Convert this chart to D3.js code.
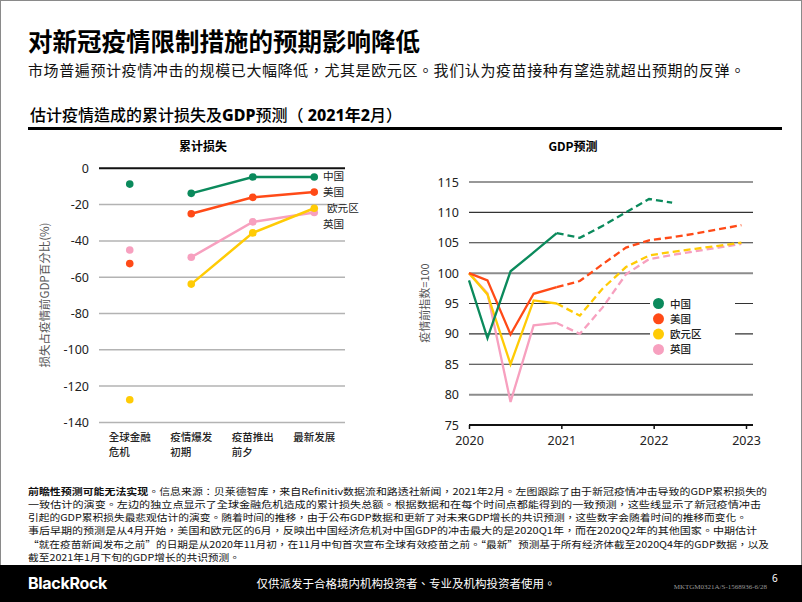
<!DOCTYPE html>
<html lang="zh-Hant"><head><meta charset="utf-8">
<script src="https://cdn.jsdelivr.net/npm/d3@7"></script>
<style>
html,body{margin:0;padding:0;background:#fff;}
svg{display:block;}
text{font-family:"Noto Sans","Noto Sans CJK TC",sans-serif;}
</style></head>
<body>
<svg id="c" width="802" height="602"></svg>
<script>
// ---------- data ----------
const categories = ["全球金融危机","疫情爆发初期","疫苗推出前夕","最新发展"];
const categoryLines = [["全球金融","危机"],["疫情爆发","初期"],["疫苗推出","前夕"],["最新发展"]];
const lossChina = [-8.7, -13.8, -4.8, -4.8];
const lossUS    = [-52.5, -25, -16, -13.1];
const lossEuro  = [-127.5, -63.8, -35.6, -22];
const lossUK    = [-45, -49, -29.5, -24.3];
const lossTicks = [0,-20,-40,-60,-80,-100,-120,-140];

const periods  = [2020.0, 2020.2, 2020.45, 2020.7, 2020.95, 2021.2, 2021.45, 2021.7, 2021.95, 2022.2, 2022.45, 2022.7, 2022.95];
const gdpChina = [98.8, 89.3, 100.3, 103.4, 106.6, 105.8, 107.8, 110.0, 112.2, 111.6];
const gdpUS    = [100, 98.8, 89.9, 96.6, 97.7, 98.7, 101.5, 104.2, 105.4, 105.9, 106.5, 107.2, 107.9];
const gdpEuro  = [100, 96.5, 85.0, 95.5, 95.0, 93.0, 97.5, 101.0, 102.9, 103.5, 104.0, 104.5, 105.0];
const gdpUK    = [100, 96.7, 78.8, 91.4, 91.8, 90.0, 94.4, 99.8, 102.3, 103.0, 103.6, 104.2, 104.8];
const gdpTicks = [75,80,85,90,95,100,105,110,115];
const yearTicks = [2020,2021,2022,2023];
const lastActual = 4; // index where forecasts (dashed) start

const seriesNames = ["中国","美国","欧元区","英国"];
const colors = {"中国":"#0b8a5c","美国":"#ff4a17","欧元区":"#ffcb05","英国":"#f7a0bf"};

const footLines = [
  [["前瞻性预测可能无法实现",true],["。信息来源：贝莱德智库，来自Refinitiv数据流和路透社新闻，2021年2月。左图跟踪了由于新冠疫情冲击导致的GDP累积损失的",false]],
  [["一致估计的演变。左边的独立点显示了全球金融危机造成的累计损失总额。根据数据和在每个时间点都能得到的一致预测，这些线显示了新冠疫情冲击",false]],
  [["引起的GDP累积损失最悲观估计的演变。随着时间的推移，由于公布GDP数据和更新了对未来GDP增长的共识预测，这些数字会随着时间的推移而变化。",false]],
  [["事后早期的预测是从4月开始，美国和欧元区的6月，反映出中国经济危机对中国GDP的冲击最大的是2020Q1年，而在2020Q2年的其他国家。中期估计",false]],
  [["“就在疫苗新闻发布之前”的日期是从2020年11月初，在11月中旬首次宣布全球有效疫苗之前。“最新”预测基于所有经济体截至2020Q4年的GDP数据，以及",false]],
  [["截至2021年1月下旬的GDP增长的共识预测。",false]]
];
const footWidths = [739, 733, 719, 729, 741, 212];

// ---------- drawing ----------
const svg = d3.select("#c");
const CJK = '"Noto Sans CJK TC","Noto Sans CJK SC",sans-serif';

svg.append("rect").attr("x",0.5).attr("y",0.5).attr("width",801).attr("height",601)
  .attr("fill","#fff").attr("stroke","#8a8a8a").attr("stroke-width",1);

// header
svg.append("text").attr("x",28).attr("y",50.5).attr("font-size",24.5).attr("font-weight",700)
  .style("font-family",CJK).attr("fill","#000").text("对新冠疫情限制措施的预期影响降低");
svg.append("text").attr("x",28).attr("y",75.5).attr("font-size",15)
  .style("font-family",CJK).attr("fill","#111")
  .attr("textLength",717).attr("lengthAdjust","spacing")
  .text("市场普遍预计疫情冲击的规模已大幅降低，尤其是欧元区。我们认为疫苗接种有望造就超出预期的反弹。");

const h = svg.append("text").attr("x",30).attr("y",121).attr("font-size",16).attr("fill","#000");
[["估计疫情造成的累计损失及",500],["GDP",800],["预测（ ",500],["2021",800],["年",700],["2",800],["月）",500]]
  .forEach(([t,w])=>h.append("tspan").attr("font-weight",w).text(t));
svg.append("line").attr("x1",28).attr("x2",782).attr("y1",128.5).attr("y2",128.5)
  .attr("stroke","#000").attr("stroke-width",3);

// ---------- left chart ----------
const xL = d3.scalePoint().domain(categories).range([99,345]).padding(0.5);
const yL = d3.scaleLinear().domain([-140,0]).range([422.4,168.3]);
const gL = svg.append("g");

gL.append("text").attr("x",203).attr("y",151).attr("text-anchor","middle")
  .attr("font-size",12).attr("font-weight",700).style("font-family",CJK).text("累计损失");

lossTicks.forEach(t=>{
  gL.append("line").attr("x1",99).attr("x2",345).attr("y1",yL(t)).attr("y2",yL(t))
    .attr("stroke", t===0 ? "#111" : "#b3b3b3").attr("stroke-width", t===0 ? 2 : 1.5);
});
const axL = d3.axisLeft(yL).tickValues(lossTicks).tickSize(0).tickPadding(0).tickFormat(d=>d===0?"0":"-"+Math.abs(d));
const axLg = gL.append("g").attr("transform","translate(89,0)").call(axL);
axLg.select(".domain").remove();
axLg.selectAll("text").attr("font-size",12.5).attr("fill","#222").style("font-family",'"Noto Sans",sans-serif');

gL.append("text").attr("transform","translate(49,295) rotate(-90)").attr("text-anchor","middle")
  .attr("font-size",11.5).attr("fill","#555").style("font-family",CJK).text("损失占疫情前GDP百分比(%)");

categoryLines.forEach((lines,i)=>{
  const cx = xL(categories[i]);
  lines.forEach((ln,j)=>{
    gL.append("text").attr("x",cx-21).attr("y",441+j*14.6).attr("font-size",10.5)
      .attr("font-weight",500).style("font-family",CJK).attr("fill","#222").text(ln);
  });
});

const lossData = {"中国":lossChina,"美国":lossUS,"欧元区":lossEuro,"英国":lossUK};
const lineL = d3.line().x((d,i)=>xL(categories[i+1])).y(d=>yL(d));
["英国","欧元区","美国","中国"].forEach(n=>{
  const vals = lossData[n];
  gL.append("path").attr("d",lineL(vals.slice(1))).attr("fill","none")
    .attr("stroke",colors[n]).attr("stroke-width",2.5);
  gL.selectAll(null).data(vals).enter().append("circle")
    .attr("cx",(d,i)=>xL(categories[i])).attr("cy",d=>yL(d)).attr("r",3.8).attr("fill",colors[n]);
});
const lossLabelPos = {"中国":[323,180],"美国":[323,196],"欧元区":[327,212],"英国":[323,227.5]};
seriesNames.forEach(n=>{
  gL.append("text").attr("x",lossLabelPos[n][0]).attr("y",lossLabelPos[n][1]).attr("font-size",10.6)
    .style("font-family",CJK).attr("fill","#222").text(n);
});

// ---------- right chart ----------
const xR = d3.scaleLinear().domain([2020,2023]).range([469,746]);
const yR = d3.scaleLinear().domain([75,115]).range([425,182]);
const gR = svg.append("g");

gR.append("text").attr("x",573).attr("y",151).attr("text-anchor","middle")
  .attr("font-size",12).attr("font-weight",700).style("font-family",CJK).text("GDP预测");

gdpTicks.forEach(t=>{
  if (t===75) return;
  const heavy = (t===100||t===80);
  gR.append("line").attr("x1",469).attr("x2",753).attr("y1",yR(t)).attr("y2",yR(t))
    .attr("stroke", heavy ? "#8c8c8c" : "#333").attr("stroke-width", heavy ? 2 : 1.2);
});
const axRy = gR.append("g").attr("transform","translate(459,0)")
  .call(d3.axisLeft(yR).tickValues(gdpTicks).tickSize(0).tickPadding(0));
axRy.select(".domain").remove();
axRy.selectAll("text").attr("font-size",12.5).attr("fill","#222").style("font-family",'"Noto Sans",sans-serif');

const axRx = gR.append("g").attr("transform",`translate(0,${yR(75)})`)
  .call(d3.axisBottom(xR).tickValues(yearTicks).tickFormat(d3.format("d")).tickSize(4).tickPadding(7));
axRx.select(".domain").attr("d",`M469,0H753`).attr("stroke","#111").attr("stroke-width",2);
axRx.selectAll(".tick line").attr("stroke","#111").attr("stroke-width",1.5);
axRx.selectAll("text").attr("font-size",12.5).attr("fill","#222").style("font-family",'"Noto Sans",sans-serif');

gR.append("text").attr("transform","translate(429,303) rotate(-90)").attr("text-anchor","middle")
  .attr("font-size",11).attr("fill","#555").style("font-family",CJK).text("疫情前指数=100");

const gdpData = {"中国":gdpChina,"美国":gdpUS,"欧元区":gdpEuro,"英国":gdpUK};
const lineR = d3.line().x(d=>xR(d[0])).y(d=>yR(d[1]));
["英国","欧元区","美国","中国"].forEach(n=>{
  const pts = gdpData[n].map((v,i)=>[periods[i],v]);
  gR.append("path").attr("d",lineR(pts.slice(lastActual))).attr("fill","none")
    .attr("stroke",colors[n]).attr("stroke-width",2.3).attr("stroke-dasharray","7,4");
  gR.append("path").attr("d",lineR(pts.slice(0,lastActual+1))).attr("fill","none")
    .attr("stroke",colors[n]).attr("stroke-width",2.3).attr("stroke-linejoin","miter");
});

// legend
gR.append("rect").attr("x",650).attr("y",294).attr("width",85).attr("height",64).attr("fill","#fff");
seriesNames.forEach((n,i)=>{
  const y = 303.5 + i*15.3;
  gR.append("circle").attr("cx",658.5).attr("cy",y).attr("r",5.5).attr("fill",colors[n]);
  gR.append("text").attr("x",670).attr("y",y+4).attr("font-size",10.5).attr("font-weight",500)
    .style("font-family",CJK).attr("fill","#222").text(n);
});

// ---------- footnote ----------
footLines.forEach((segs,i)=>{
  const t = svg.append("text").attr("x",28).attr("y",494.5+i*13.3).attr("font-size",9.2)
    .style("font-family",CJK).attr("fill","#111")
    .attr("textLength",footWidths[i]).attr("lengthAdjust","spacingAndGlyphs");
  segs.forEach(([s,b])=>t.append("tspan").attr("font-weight",b?700:400).text(s));
});

// ---------- footer ----------
svg.append("rect").attr("x",0).attr("y",565).attr("width",802).attr("height",37).attr("fill","#000");
svg.append("text").attr("x",28).attr("y",589).attr("font-size",16).attr("font-weight",700)
  .attr("fill","#fff").style("font-family",'"Inter","Liberation Sans",sans-serif').attr("letter-spacing",-0.3).text("BlackRock");
svg.append("text").attr("x",406).attr("y",588).attr("text-anchor","middle").attr("font-size",11.5)
  .style("font-family",CJK).attr("fill","#fff").text("仅供派发于合格境内机构投资者、专业及机构投资者使用。");
svg.append("text").attr("x",767).attr("y",589).attr("text-anchor","end").attr("font-size",7)
  .style("font-family",'"Liberation Serif",serif').attr("fill","#999").text("MKTGM0321A/S-1568936-6/28");
svg.append("text").attr("x",772).attr("y",582).attr("font-size",10)
  .style("font-family",'"Noto Sans",sans-serif').attr("fill","#fff").text("6");
</script>
</body></html>
